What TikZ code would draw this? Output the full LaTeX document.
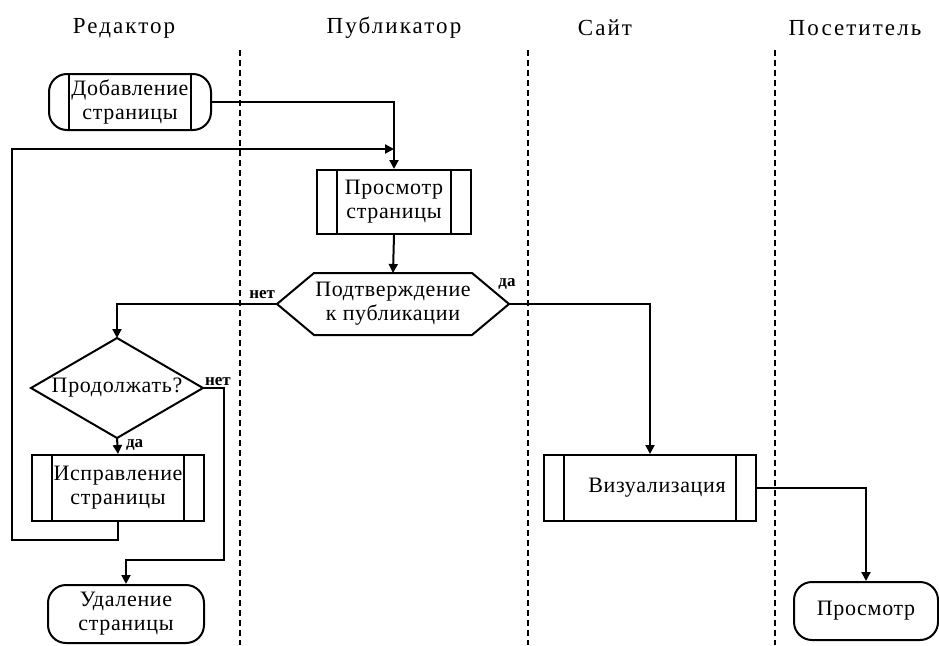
\documentclass[tikz,border=0pt]{standalone}
\usepackage{fontspec}
\setmainfont{Liberation Serif}
\newfontfamily\headfont[LetterSpace=9]{Liberation Serif}
\newfontfamily\boxfont[LetterSpace=3]{Liberation Serif}
\usetikzlibrary{arrows.meta}
\tikzset{
  lane/.style={line width=1.5pt, dash pattern=on 6pt off 4pt},
  flow/.style={-{Triangle[width=9pt,length=9pt]}},
  txt/.style={font=\boxfont\fontsize{22}{24}\selectfont, align=center, inner sep=0pt},
  term/.style={txt, draw, rounded corners=18pt},
  subproc/.style={txt, draw, path picture={
      \draw ([xshift=20pt]path picture bounding box.north west) -- ([xshift=20pt]path picture bounding box.south west);
      \draw ([xshift=-20pt]path picture bounding box.north east) -- ([xshift=-20pt]path picture bounding box.south east);}},
  yesno/.style={font=\fontsize{17}{17}\selectfont\bfseries, inner sep=1pt},
  lanehead/.style={font=\headfont\fontsize{23}{26}\selectfont}
}
\begin{document}
\begin{tikzpicture}[x=1pt, y=-1pt, line width=2pt]
\useasboundingbox (0,0) rectangle (939,645);
% Lanes
    \node[lanehead] (hEd) at (124,28) {Редактор};
    \node[lanehead] (hPub) at (394,28) {Публикатор};
    \node[lanehead] (hSite) at (605,28) {Сайт};
    \node[lanehead] (hVis) at (855,28) {Посетитель};
    \draw[lane] (240,50) -- (240,645);
    \draw[lane] (528,50) -- (528,645);
    \draw[lane] (775,50) -- (775,645);
% Blocks
    \node[term, subproc, minimum width=162pt, minimum height=56pt] (add) at (130,102) {Добавление\\страницы};
    \node[subproc, minimum width=154pt, minimum height=64pt] (view) at (394,202) {Просмотр\\страницы};
    \node[txt, minimum width=230pt, minimum height=60pt] (conf) at (393,304) {Подтверждение\\к публикации};
    \draw (conf.west) -- ([xshift=37pt]conf.north west) -- ([xshift=-37pt]conf.north east)
        -- (conf.east) -- ([xshift=-37pt]conf.south east) -- ([xshift=37pt]conf.south west) -- cycle;
    \node[txt, minimum width=170pt, minimum height=98pt] (cont) at (117,388) {Продолжать?};
    \draw (cont.north) -- (cont.east) -- (cont.south) -- (cont.west) -- cycle;
    \node[subproc, minimum width=172pt, minimum height=66pt] (fix) at (118,488) {Исправление\\страницы};
    \node[term, minimum width=156pt, minimum height=58pt] (del) at (126,614) {Удаление\\страницы};
    \node[subproc, minimum width=212pt, minimum height=66pt] (vis) at (650,488) {\hspace*{14pt}Визуализация};
    \node[term, minimum width=144pt, minimum height=58pt] (see) at (866,611) {Просмотр};
% Flow
    \coordinate (backB) at (12,540);
    \coordinate (backT) at (12,149);
    \coordinate (noB) at (224,560);
    \draw[flow] (add.east) -| (view.north);
    \draw[flow] (fix.south) |- (backB) -- (backT) -- (view.north |- backT);
    \draw[flow] (view.south) -- (conf.north);
    \draw[flow] (conf.west) -| node[yesno, pos=0, above left, yshift=3pt] {нет} (cont.north);
    \draw[flow] (conf.east) -| node[yesno, pos=0, above=13pt, xshift=-2pt] {да} (vis.north);
    \draw[flow] (cont.south) -- node[yesno, pos=0, below right, xshift=7pt] {да} (fix.north);
    \draw[flow] (cont.east) -| node[yesno, pos=0, above right] {нет} (noB) -| (del.north);
    \draw[flow] (vis.east) -| (see.north);
\end{tikzpicture}
\end{document}
